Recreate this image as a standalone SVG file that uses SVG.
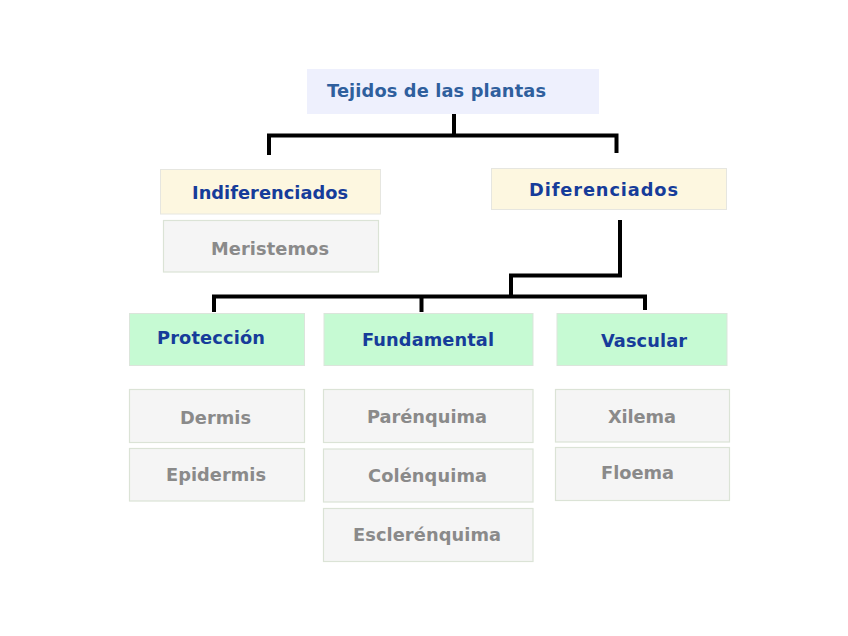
<svg xmlns="http://www.w3.org/2000/svg" width="848" height="636" viewBox="0 0 848 636">
<style>
  text { font-family: "DejaVu Sans", Verdana, sans-serif; font-weight: bold; font-size: 17.8px; text-anchor: middle; }
  .root rect { fill: #eef0fd; }
  .root text { fill: #2f5f9d; }
  .cat rect { fill: #fdf7e0; stroke: #e6e6e0; stroke-width: 1; }
  .grp rect { fill: #c6fad3; stroke: #dbe5db; stroke-width: 1; }
  .cat text, .grp text { fill: #163c9a; }
  .leaf rect { fill: #f5f5f5; stroke: #dbe3d6; stroke-width: 1.2; }
  .leaf text { fill: #8a8a8a; }
  .conn path { fill: none; stroke: #000; stroke-width: 4; stroke-linejoin: miter; }
</style>
<rect width="848" height="636" fill="#fff"/>
<g class="conn" id="connectors">
  <path d="M454,114 V135.5 M269,155 V135.5 H616.5 V153"/>
  <path d="M620,220 V275.5 H511 V296.5"/>
  <path d="M214,312 V296.5 H645 V310 M421.5,296.5 V312"/>
</g>
<g class="root" id="n-tejidos"><rect x="307" y="69" width="292" height="45"/><text x="436.5" y="97" textLength="219">Tejidos de las plantas</text></g>
<g class="cat" id="n-indif"><rect x="160.5" y="169.5" width="220" height="44.5"/><text x="270" y="199" textLength="156">Indiferenciados</text></g>
<g class="leaf" id="n-meristemos"><rect x="163.5" y="220.5" width="215" height="51.5"/><text x="270" y="255" textLength="118">Meristemos</text></g>
<g class="cat" id="n-dif"><rect x="491.5" y="168.5" width="235" height="41"/><text x="603.5" y="196" textLength="149">Diferenciados</text></g>
<g class="grp" id="n-proteccion"><rect x="129.5" y="313.5" width="175" height="52"/><text x="211" y="344" textLength="108">Protección</text></g>
<g class="grp" id="n-fundamental"><rect x="324" y="313.5" width="209" height="52"/><text x="428" y="346" textLength="132">Fundamental</text></g>
<g class="grp" id="n-vascular"><rect x="557" y="313.5" width="170" height="52"/><text x="644" y="347" textLength="86">Vascular</text></g>
<g class="leaf" id="n-dermis"><rect x="129.5" y="389.5" width="175" height="53"/><text x="215.5" y="424" textLength="71">Dermis</text></g>
<g class="leaf" id="n-epidermis"><rect x="129.5" y="448.5" width="175" height="52.5"/><text x="216" y="481" textLength="100">Epidermis</text></g>
<g class="leaf" id="n-parenquima"><rect x="323.5" y="389.5" width="209.5" height="53"/><text x="427" y="423" textLength="120">Parénquima</text></g>
<g class="leaf" id="n-colenquima"><rect x="323.5" y="449" width="209.5" height="53"/><text x="427.5" y="482" textLength="119">Colénquima</text></g>
<g class="leaf" id="n-esclerenquima"><rect x="323.5" y="508.5" width="209.5" height="53"/><text x="427" y="541" textLength="148">Esclerénquima</text></g>
<g class="leaf" id="n-xilema"><rect x="555.5" y="389.5" width="174" height="52.5"/><text x="642" y="423" textLength="68">Xilema</text></g>
<g class="leaf" id="n-floema"><rect x="555.5" y="447.5" width="174" height="53"/><text x="637.5" y="479" textLength="73">Floema</text></g>
</svg>
